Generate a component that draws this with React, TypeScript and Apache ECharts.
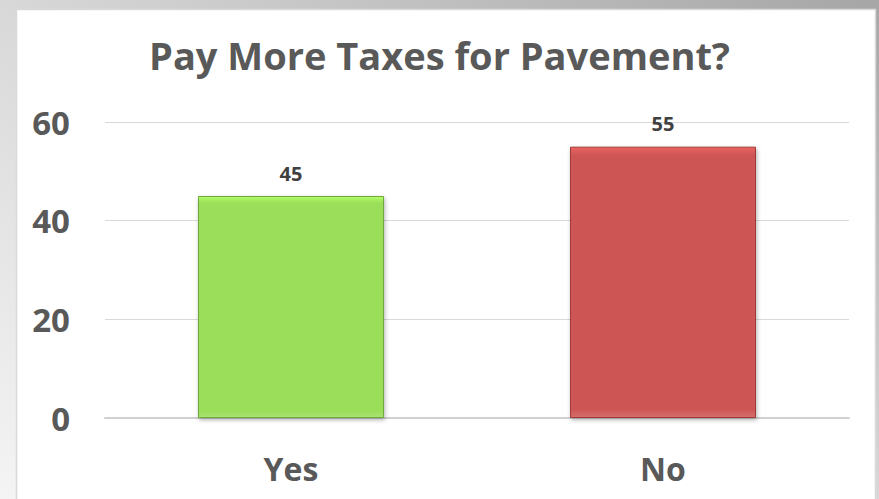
import React, { useEffect, useRef } from "react";
import * as echarts from "echarts";

const categories = ["Yes", "No"];
const values = [45, 55];
const barColors = ["#9BDE5A", "#CD5654"];
const barEdges = ["#6FA83A", "#9E3B39"];
const yTicks = { min: 0, max: 60, interval: 20 };
const titleText = "Pay More Taxes for Pavement?";

export default function App() {
  const ref = useRef<HTMLDivElement>(null);
  useEffect(() => {
    if (!ref.current) return;
    const chart = echarts.init(ref.current, null, { renderer: "svg" });
    const font = "'Open Sans', 'Noto Sans', sans-serif";
    chart.setOption({
      animation: false,
      graphic: [
        {
          type: "rect",
          z: -10,
          silent: true,
          shape: { x: 0, y: 0, width: 879, height: 499 },
          style: {
            fill: new echarts.graphic.LinearGradient(0, 1, 1, 0, [
              { offset: 0, color: "#f4f4f4" },
              { offset: 0.5, color: "#d8d8d8" },
              { offset: 1, color: "#a6a6a6" },
            ]),
          },
        },
        {
          type: "rect",
          z: -9,
          silent: true,
          shape: { x: 16.5, y: 9.5, width: 859, height: 500 },
          style: { fill: "#ffffff", stroke: "#d9d9d9", lineWidth: 1.5 },
        },
      ],
      title: {
        text: titleText,
        left: "center",
        top: 31,
        textStyle: {
          fontFamily: font,
          fontWeight: "bold",
          fontSize: 38,
          color: "#595959",
        },
      },
      grid: { left: 105, right: 30, top: 122, bottom: 81 },
      xAxis: {
        type: "category",
        data: categories,
        axisLine: { lineStyle: { color: "#d0d0d0", width: 2 } },
        axisTick: { show: false },
        axisLabel: {
          fontFamily: font,
          fontWeight: "bold",
          fontSize: 32,
          color: "#595959",
          margin: 34,
        },
      },
      yAxis: {
        type: "value",
        min: yTicks.min,
        max: yTicks.max,
        interval: yTicks.interval,
        axisLine: { show: false },
        axisTick: { show: false },
        splitLine: { lineStyle: { color: "#d9d9d9", width: 1 } },
        axisLabel: {
          fontFamily: font,
          fontWeight: "bold",
          fontSize: 33,
          color: "#595959",
          margin: 35,
        },
      },
      series: [
        {
          type: "bar",
          barWidth: "50%",
          data: values.map((v, i) => ({
            value: v,
            itemStyle: {
              color: new echarts.graphic.LinearGradient(0, 0, 0, 1, [
                { offset: 0, color: echarts.color.lift(barColors[i], -0.15) },
                { offset: 0.03, color: barColors[i] },
                { offset: 0.97, color: barColors[i] },
                { offset: 1, color: echarts.color.lift(barColors[i], 0.15) },
              ]),
              borderColor: barEdges[i],
              borderWidth: 1,
              shadowColor: "rgba(0,0,0,0.3)",
              shadowBlur: 4,
              shadowOffsetX: 1,
              shadowOffsetY: 2,
            },
          })),
          label: {
            show: true,
            position: "top",
            distance: 13,
            fontFamily: font,
            fontWeight: "bold",
            fontSize: 20,
            color: "#404040",
          },
        },
      ],
    });
    return () => chart.dispose();
  }, []);
  return (
    <div
      ref={ref}
      style={{ position: "absolute", left: 0, top: 0, width: 879, height: 499 }}
    />
  );
}
